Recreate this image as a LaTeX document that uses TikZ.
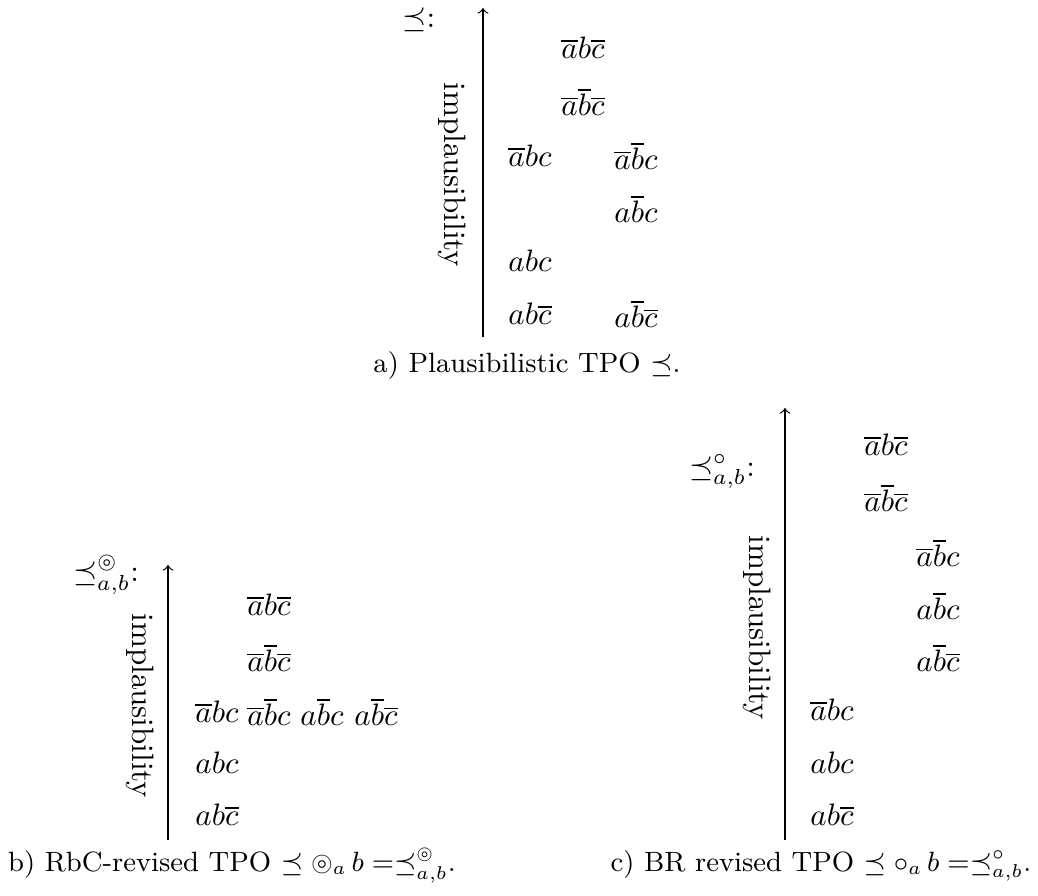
\documentclass[tikz,border=0pt]{standalone}
\usepackage{amsmath,amssymb}
\begin{document}
\begin{tikzpicture}[x=0.3226pt,y=-0.3226pt,
  world/.style={inner sep=0pt},
  axis/.style={->},
  axlabel/.style={rotate=-90,inner sep=0pt},
  caption/.style={inner sep=0pt,font=\fontsize{9}{11}\selectfont}]
\useasboundingbox (0,0) rectangle (1038,896);
% ---------- a) ----------
\coordinate (aBot) at (483,337);
\coordinate (aTop) at (483,8);
\draw[axis] (aBot) -- (aTop);
\node[world] (aL) at (419,20) {$\preceq$:};
\node[axlabel] (aI) at (452,175) {implausibility};
\node[world] (a1) at (583,48) {$\overline{a}b\overline{c}$};
\node[world] (a2) at (583,102) {$\overline{a}\overline{b}\overline{c}$};
\node[world] (a3) at (530,156) {$\overline{a}bc$};
\node[world] (a4) at (636,156) {$\overline{a}\overline{b}c$};
\node[world] (a5) at (636,209) {$a\overline{b}c$};
\node[world] (a6) at (530,261) {$abc$};
\node[world] (a7) at (530,314) {$ab\overline{c}$};
\node[world] (a8) at (636,314) {$a\overline{b}\overline{c}$};
\node[caption] (aC) at (527,366) {a) Plausibilistic TPO $\preceq$.};
% ---------- b) ----------
\coordinate (bBot) at (168,840);
\coordinate (bTop) at (168,565);
\draw[axis] (bBot) -- (bTop);
\node[world] (bL) at (106,575) {$\preceq^{\circledcirc}_{a,b}$:};
\node[axlabel] (bI) at (140,706) {implausibility};
\node[world] (b1) at (269,605) {$\overline{a}b\overline{c}$};
\node[world] (b2) at (269,658) {$\overline{a}\overline{b}\overline{c}$};
\node[world] (b3) at (217,712) {$\overline{a}bc$};
\node[world] (b4) at (269,712) {$\overline{a}\overline{b}c$};
\node[world] (b5) at (322,712) {$a\overline{b}c$};
\node[world] (b6) at (376,712) {$a\overline{b}\overline{c}$};
\node[world] (b7) at (217,763) {$abc$};
\node[world] (b8) at (217,815) {$ab\overline{c}$};
\node[caption] (bC) at (232,866) {b) RbC-revised TPO $\preceq\circledcirc_a\,b\;{=}{\preceq}^{\circledcirc}_{a,b}$.};
% ---------- c) ----------
\coordinate (cBot) at (785,840);
\coordinate (cTop) at (785,408);
\draw[axis] (cBot) -- (cTop);
\node[world] (cL) at (722,472) {$\preceq^{\circ}_{a,b}$:};
\node[axlabel] (cI) at (757,628) {implausibility};
\node[world] (c1) at (886,445) {$\overline{a}b\overline{c}$};
\node[world] (c2) at (886,498) {$\overline{a}\overline{b}\overline{c}$};
\node[world] (c3) at (938,553) {$\overline{a}\overline{b}c$};
\node[world] (c4) at (938,606) {$a\overline{b}c$};
\node[world] (c5) at (938,658) {$a\overline{b}\overline{c}$};
\node[world] (c6) at (832,710) {$\overline{a}bc$};
\node[world] (c7) at (832,763) {$abc$};
\node[world] (c8) at (832,815) {$ab\overline{c}$};
\node[caption] (cC) at (821,866) {c) BR revised TPO $\preceq\circ_a\,b\;{=}{\preceq}^{\circ}_{a,b}$.};
\end{tikzpicture}
\end{document}
